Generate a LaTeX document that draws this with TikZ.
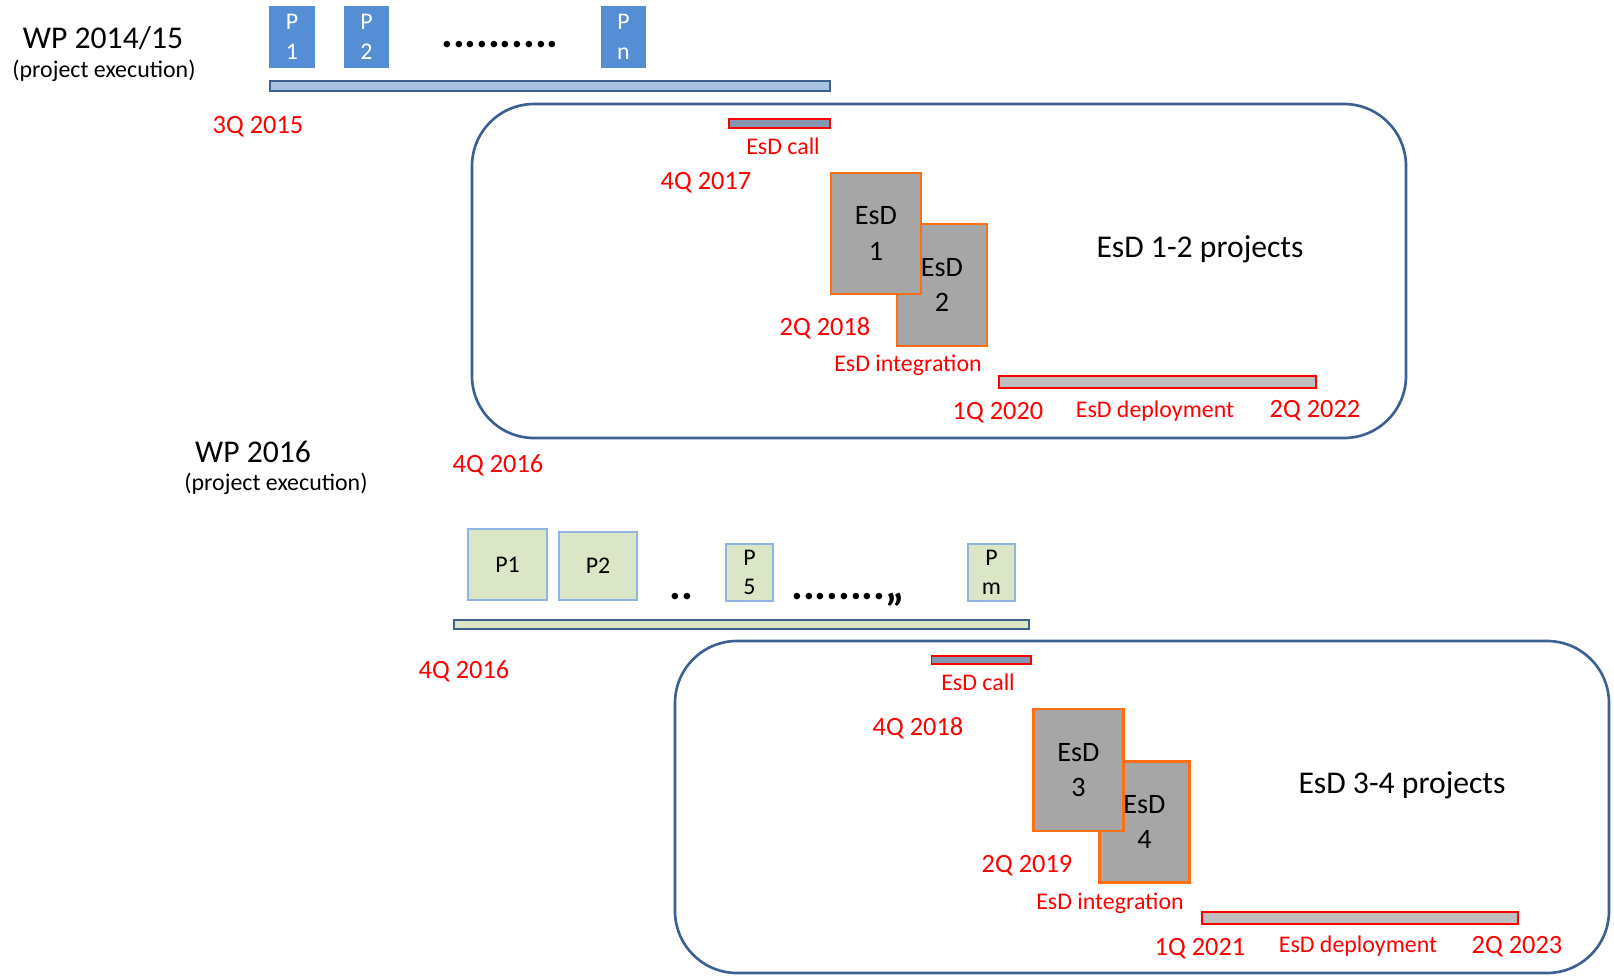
\documentclass[tikz,border=0pt]{standalone}
\usepackage{fontspec}
\setmainfont{Carlito}
\usetikzlibrary{positioning}
\definecolor{datered}{RGB}{255,0,0}
\definecolor{pblue}{RGB}{85,142,213}
\definecolor{barblue}{RGB}{170,194,226}
\definecolor{edgeblue}{RGB}{62,96,140}
\definecolor{framblue}{RGB}{60,96,146}
\definecolor{callgray}{RGB}{132,151,176}
\definecolor{esdgray}{RGB}{166,166,166}
\definecolor{esdorange}{RGB}{255,110,20}
\definecolor{deplgray}{RGB}{191,191,191}
\definecolor{pgreen}{RGB}{219,230,199}
\definecolor{pgreenedge}{RGB}{142,180,227}
\tikzset{
  wptext/.style={inner sep=0pt, font=\fontsize{9}{11}\selectfont},
  exectext/.style={inner sep=0pt, font=\fontsize{6.8}{8}\selectfont},
  datetext/.style={inner sep=0pt, yshift=-0.6pt, text=datered, font=\fontsize{7.5}{9}\selectfont},
  redlabel/.style={inner sep=0pt, text=datered, font=\fontsize{6.8}{8}\selectfont},
  dotstext/.style={inner sep=0pt, anchor=base, font=\fontsize{12.5}{14}\selectfont\bfseries},
  projtext/.style={inner sep=0pt, yshift=-0.5pt, font=\fontsize{9}{11}\selectfont},
  pbox/.style={draw=pblue, fill=pblue, text=white, inner sep=0pt, align=center,
    minimum width=0.44cm, minimum height=0.6cm, font=\fontsize{6.8}{8.5}\selectfont},
  gbox/.style={draw=pgreenedge, fill=pgreen, line width=0.6pt, inner sep=0pt, align=center,
    font=\fontsize{6.8}{8.2}\selectfont},
  esdbox/.style={draw=esdorange, fill=esdgray, line width=0.6pt, inner sep=0pt, align=center,
    minimum width=0.9cm, minimum height=1.21cm, font=\fontsize{8}{10}\selectfont},
  frame/.style={draw=framblue, line width=0.75pt, rounded corners=0.62cm},
  callbar/.style={draw=datered, fill=callgray, line width=0.4pt},
  deplbar/.style={draw=datered, fill=deplgray, line width=0.4pt}
}
\begin{document}
\begin{tikzpicture}[x=0.01cm, y=-0.01cm]
  \useasboundingbox (0,0) rectangle (1614,975);
  %%%%% WP 2014/15 %%%%%

  \node[wptext] (wpa) at (103,38) {WP 2014/15};
  \node[exectext] (wpaexec) at (104,71) {(project execution)};

  \node[pbox] (pa1) at (292,37) {P\\1};
  \node[pbox] (pa2) at (366.5,37) {P\\2};
  \node[dotstext] (dotsa) at (500,47) {..........};
  \node[pbox] (pan) at (623.5,37) {P\\n};

  \draw[draw=edgeblue, fill=barblue, line width=0.5pt] (270,81) rectangle (830,91);
  \node[datetext] (qa) at (258,125) {3Q 2015};

  % EsD 1-2
  \draw[frame] (472,104) rectangle (1406,438);
  \draw[callbar] (729,119) rectangle (830,128);
  \node[redlabel] (calla) at (783,146) {EsD call};
  \node[datetext] (callqa) at (706,181) {4Q 2017};

  \node[esdbox, minimum height=1.22cm] (esd2) at (942,285) {EsD\\2};
  \node[esdbox] (esd1) at (876,233.5) {EsD\\1};

  \node[datetext] (intqa) at (825,326) {2Q 2018};
  \node[redlabel] (inta) at (908,365) {EsD integration};

  \draw[deplbar] (999,376) rectangle (1316,388);
  \node[datetext] (depla1) at (998,411) {1Q 2020};
  \node[redlabel] (depla) at (1155,411) {EsD deployment};
  \node[datetext] (depla2) at (1315,409) {2Q 2022};

  \node[projtext] (proja) at (1200,248) {EsD 1-2 projects};

  %%%%% WP 2016 %%%%%

  \node[wptext] (wpb) at (253,452) {WP 2016};
  \node[exectext] (wpbexec) at (276,484) {(project execution)};
  \node[datetext] (qb) at (498,463) {4Q 2016};

  \node[gbox, minimum width=0.79cm, minimum height=0.71cm] (pb1) at (507.5,564.5) {P1};
  \node[gbox, minimum width=0.78cm, minimum height=0.68cm] (pb2) at (598,566) {P2};
  \node[dotstext] (dotsb1) at (681,599) {..};
  \node[gbox, minimum width=0.47cm, minimum height=0.57cm] (pb5) at (749.5,572.5) {P\\5};
  \node[dotstext] (dotsb2) at (848,599) {........,,};
  \node[gbox, minimum width=0.47cm, minimum height=0.57cm] (pbm) at (991.5,572.5) {P\\m};

  \draw[draw=edgeblue, fill=pgreen, line width=0.5pt] (454,620) rectangle (1029,629);
  \node[datetext] (qb2) at (464,669) {4Q 2016};

  % EsD 3-4
  \draw[frame] (675,641) rectangle (1609,973);
  \draw[callbar] (931.5,656) rectangle (1031,664);
  \node[redlabel] (callb) at (978,682) {EsD call};
  \node[datetext] (callqb) at (918,726) {4Q 2018};

  \node[esdbox] (esd4) at (1144.5,822) {EsD\\4};
  \node[esdbox, minimum height=1.22cm] (esd3) at (1078.5,770) {EsD\\3};

  \node[datetext] (intqb) at (1027,864) {2Q 2019};
  \node[redlabel] (intb) at (1110,903) {EsD integration};

  \draw[deplbar] (1202,912) rectangle (1518,924);
  \node[datetext] (deplb1) at (1200,947) {1Q 2021};
  \node[redlabel] (deplb) at (1358,946) {EsD deployment};
  \node[datetext] (deplb2) at (1517,945) {2Q 2023};

  \node[projtext] (projb) at (1402,784) {EsD 3-4 projects};
\end{tikzpicture}
\end{document}
